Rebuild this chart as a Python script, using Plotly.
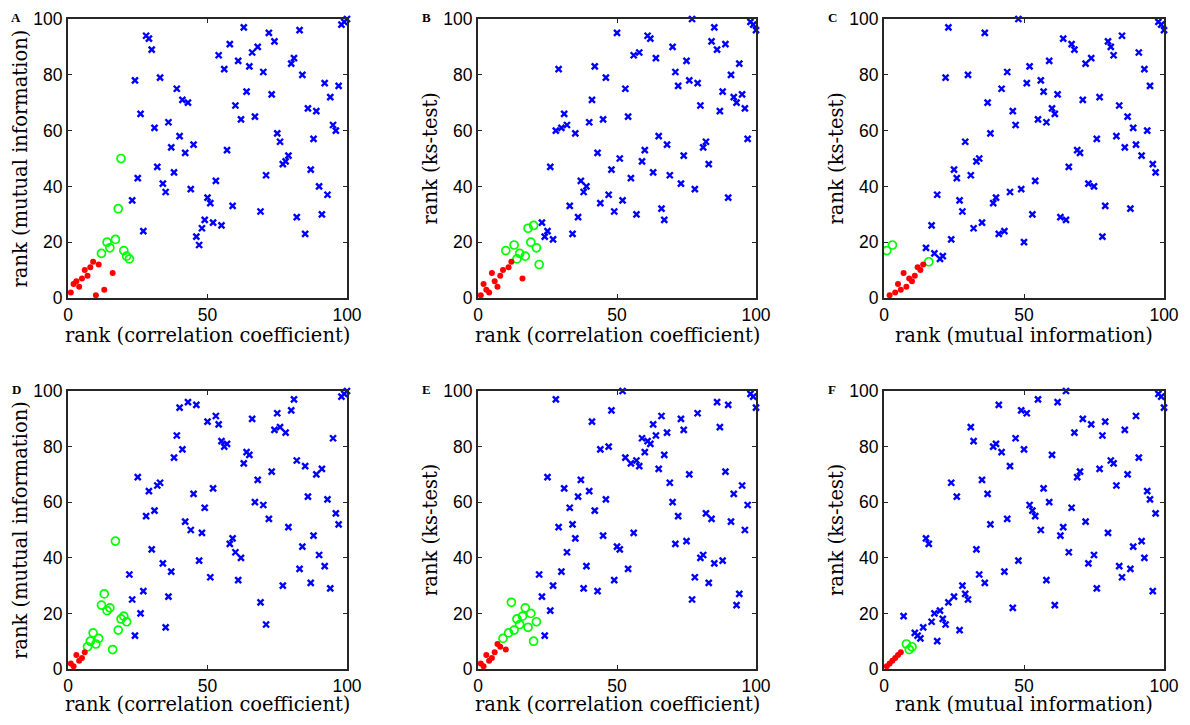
import plotly.graph_objects as go

# ---------------- data (ranks) ----------------
# Panel A: rank(correlation coefficient) vs rank(mutual information)
A_red_x = [1, 2, 3, 4, 5, 6, 7, 8, 9, 10, 11, 13, 16]
A_red_y = [2, 5, 6, 4, 7, 10, 8, 11, 13, 1, 12, 3, 9]
A_green_x = [12, 14, 15, 17, 18, 19, 20, 21, 22]
A_green_y = [16, 20, 18, 21, 32, 50, 17, 15, 14]
A_blue_x = list(range(23, 101))
A_blue_y = [35, 78, 43, 66, 24, 94, 93, 89, 61, 47, 79, 41, 38, 63, 54, 45, 75, 58, 71, 52,
            70, 39, 55, 22, 19, 25, 28, 36, 34, 27, 42, 87, 26, 82, 53, 91, 33, 69, 85, 64,
            97, 74, 83, 88, 65, 90, 31, 81, 44, 95, 73, 92, 59, 56, 48, 49, 51, 84, 86, 29,
            96, 80, 23, 68, 46, 57, 67, 40, 30, 77, 37, 72, 62, 60, 76, 98, 99, 100]

# Panel B: rank(correlation coefficient) vs rank(ks-test)
B_red_x = [1, 2, 3, 4, 5, 6, 7, 8, 9, 11, 12, 16]
B_red_y = [1, 5, 3, 2, 9, 6, 4, 8, 10, 11, 13, 7]
B_green_x = [10, 13, 14, 15, 17, 18, 19, 20, 21, 22]
B_green_y = [17, 19, 14, 16, 15, 25, 20, 26, 18, 12]
B_blue_x = list(range(23, 101))
B_blue_y = [27, 22, 24, 47, 21, 60, 82, 61, 66, 62, 33, 23, 59, 29, 42, 38, 40, 63, 71, 83,
            52, 34, 64, 79, 37, 46, 31, 95, 50, 35, 75, 65, 43, 87, 30, 88, 49, 53, 94, 93,
            45, 86, 58, 32, 28, 55, 44, 90, 81, 76, 41, 51, 85, 78, 100, 39, 77, 69, 54, 56,
            48, 92, 97, 89, 67, 74, 91, 36, 80, 72, 70, 84, 73, 68, 57, 99, 98, 96]

# Panel C: rank(mutual information) vs rank(ks-test)
C_red_x = [2, 4, 5, 6, 7, 8, 9, 10, 11, 12, 13, 14]
C_red_y = [1, 2, 5, 3, 9, 4, 7, 6, 8, 11, 10, 12]
C_green_x = [1, 3, 16]
C_green_y = [17, 19, 13]
C_blue_x = [15] + list(range(17, 101))
C_blue_y = [18, 26, 16, 37, 14, 15, 79, 97, 21, 46, 43, 35, 31, 56, 80, 44, 25, 49, 50, 27,
            95, 70, 59, 34, 36, 23, 75, 24, 81, 38, 67, 62, 100, 39, 20, 77, 83, 30, 42, 64,
            78, 74, 63, 85, 68, 66, 73, 29, 93, 28, 47, 91, 89, 53, 52, 71, 84, 41, 86, 40,
            57, 72, 22, 33, 92, 90, 87, 58, 69, 94, 54, 65, 32, 61, 55, 88, 51, 82, 60, 76,
            48, 45, 99, 98, 96]

# Panel D: rank(correlation coefficient) vs rank(mutual information)
D_red_x = [1, 2, 3, 4, 5, 6]
D_red_y = [2, 1, 5, 3, 4, 6]
D_green_x = list(range(7, 22))
D_green_y = [8, 10, 13, 9, 11, 23, 27, 21, 22, 7, 46, 14, 18, 19, 17]
D_blue_x = list(range(22, 101))
D_blue_y = [34, 25, 12, 69, 20, 28, 55, 64, 43, 57, 66, 67, 38, 15, 26, 35, 76, 84, 94, 79,
            53, 96, 50, 63, 95, 39, 49, 58, 89, 33, 65, 91, 88, 82, 80, 81, 45, 47, 42, 32,
            40, 74, 78, 77, 90, 60, 68, 24, 59, 16, 54, 71, 86, 92, 87, 30, 85, 51, 93, 97,
            75, 36, 44, 73, 62, 31, 48, 70, 41, 72, 37, 61, 29, 83, 56, 52, 98, 99, 100]

# Panel E: rank(correlation coefficient) vs rank(ks-test)
E_red_x = [1, 2, 3, 4, 5, 6, 7, 8, 10]
E_red_y = [2, 1, 5, 3, 4, 6, 9, 8, 7]
E_green_x = [9, 11, 12, 13, 14, 15, 16, 17, 18, 19, 20, 21]
E_green_y = [11, 13, 24, 14, 18, 16, 19, 22, 15, 20, 10, 17]
E_blue_x = list(range(22, 101))
E_blue_y = [34, 26, 12, 69, 21, 30, 97, 51, 35, 65, 42, 58, 52, 47, 62, 68, 29, 37, 64, 89,
            57, 28, 79, 48, 61, 80, 93, 32, 44, 43, 100, 76, 36, 74, 49, 75, 73, 83, 78, 82,
            81, 88, 84, 72, 91, 77, 85, 67, 60, 45, 55, 90, 86, 46, 70, 25, 33, 92, 40, 41,
            56, 31, 54, 38, 96, 87, 39, 71, 95, 53, 63, 23, 27, 66, 50, 59, 99, 98, 94]

# Panel F: rank(mutual information) vs rank(ks-test)
F_red_x = [1, 2, 3, 4, 5, 6]
F_red_y = [1, 2, 3, 4, 5, 6]
F_green_x = [8, 9, 10]
F_green_y = [9, 7, 8]
F_blue_x = [7] + list(range(11, 101))
F_blue_y = [19, 13, 12, 11, 15, 47, 45, 17, 20, 10, 21, 18, 16, 24, 67, 26, 62, 14, 30, 27,
            25, 87, 82, 43, 34, 68, 31, 63, 52, 80, 81, 95, 78, 35, 54, 73, 22, 83, 39, 93,
            79, 92, 59, 57, 55, 97, 50, 65, 32, 60, 77, 23, 96, 48, 51, 100, 42, 58, 85, 69,
            71, 90, 53, 38, 88, 41, 29, 72, 84, 89, 49, 75, 74, 66, 37, 33, 86, 70, 36, 44,
            91, 76, 46, 40, 64, 61, 28, 56, 99, 98, 94]

panel_letters = ["A", "B", "C", "D", "E", "F"]
x_titles = ["rank (correlation coefficient)", "rank (correlation coefficient)",
            "rank (mutual information)", "rank (correlation coefficient)",
            "rank (correlation coefficient)", "rank (mutual information)"]
y_titles = ["rank (mutual information)", "rank (ks-test)", "rank (ks-test)",
            "rank (mutual information)", "rank (ks-test)", "rank (ks-test)"]
x_ticks = [0, 50, 100]
y_ticks = [0, 20, 40, 60, 80, 100]

panels = [
    (A_red_x, A_red_y, A_green_x, A_green_y, A_blue_x, A_blue_y),
    (B_red_x, B_red_y, B_green_x, B_green_y, B_blue_x, B_blue_y),
    (C_red_x, C_red_y, C_green_x, C_green_y, C_blue_x, C_blue_y),
    (D_red_x, D_red_y, D_green_x, D_green_y, D_blue_x, D_blue_y),
    (E_red_x, E_red_y, E_green_x, E_green_y, E_blue_x, E_blue_y),
    (F_red_x, F_red_y, F_green_x, F_green_y, F_blue_x, F_blue_y),
]

# ---------------- layout geometry (page pixels) ----------------
# The html page body has an 8px margin, so the figure is 16px smaller than
# the window and every page position is shifted by that margin.
PAGE_W, PAGE_H = 1190, 725
OFF = 8
W, H = PAGE_W - 2 * OFF, PAGE_H - 2 * OFF
col_px = [(68, 347), (478, 756), (884, 1164)]
row_px = [(19, 298), (391, 669)]
xtitle_gap = [37, 35]


def px(xp):
    return (xp - OFF) / W


def py(yp):
    return 1 - (yp - OFF) / H


fig = go.Figure()
layout = dict(
    template="none",
    width=W, height=H,
    margin=dict(l=0, r=0, t=0, b=0, pad=0, autoexpand=False),
    paper_bgcolor="white", plot_bgcolor="white",
    showlegend=False,
)
annotations = []
axis_color = "#262626"
tick_font = dict(family="Liberation Sans, Arial, sans-serif", size=17.5, color="black")
title_font = dict(family="DejaVu Serif, serif", size=19.5, color="black")

for i, (rx, ry, gx, gy, bx, by) in enumerate(panels):
    r, c = divmod(i, 3)
    n = "" if i == 0 else str(i + 1)
    xa, ya = "x" + n, "y" + n
    x0, x1 = col_px[c]
    y0, y1 = row_px[r]
    xdom = [px(x0), px(x1)]
    ydom = [py(y1), py(y0)]

    fig.add_trace(go.Scatter(x=bx, y=by, mode="markers", xaxis=xa, yaxis=ya,
                             cliponaxis=False,
                             marker=dict(symbol="x-thin", size=6,
                                         line=dict(color="#0000ff", width=2.4))))
    fig.add_trace(go.Scatter(x=gx, y=gy, mode="markers", xaxis=xa, yaxis=ya,
                             cliponaxis=False,
                             marker=dict(symbol="circle-open", size=8, color="#00ff00",
                                         line=dict(color="#00ff00", width=1.7))))
    fig.add_trace(go.Scatter(x=rx, y=ry, mode="markers", xaxis=xa, yaxis=ya,
                             cliponaxis=False,
                             marker=dict(symbol="circle", size=6, color="#ff0000",
                                         line=dict(width=0))))

    common = dict(showline=True, linecolor=axis_color, linewidth=2, mirror="ticks",
                  ticks="inside", ticklen=4, tickwidth=1, tickcolor=axis_color,
                  showgrid=False, zeroline=False, tickfont=tick_font, fixedrange=True,
                  automargin=False)
    layout["xaxis" + n] = dict(domain=xdom, range=[0, 100], tickvals=x_ticks,
                               anchor=ya, **common)
    layout["yaxis" + n] = dict(domain=ydom, range=[0, 100], tickvals=y_ticks,
                               anchor=xa, **common)

    # axis titles
    annotations.append(dict(text=x_titles[i], xref="paper", yref="paper",
                            x=px((x0 + x1) / 2), y=py(y1 + xtitle_gap[r]), height=20,
                            xanchor="center", yanchor="middle", showarrow=False,
                            font=title_font))
    annotations.append(dict(text=y_titles[i], xref="paper", yref="paper",
                            x=px(x0 - 48), y=py((y0 + y1) / 2), height=20,
                            xanchor="center", yanchor="middle", showarrow=False,
                            textangle=-90, font=title_font))
    # panel letter
    annotations.append(dict(text="<b>" + panel_letters[i] + "</b>", xref="paper", yref="paper",
                            x=px(x0 - 52), y=py(y0 - 2), height=10,
                            xanchor="center", yanchor="middle", showarrow=False,
                            font=dict(family="Liberation Serif, serif", size=13, color="black")))

layout["annotations"] = annotations
fig.update_layout(**layout)
fig.write_html("out.html")
